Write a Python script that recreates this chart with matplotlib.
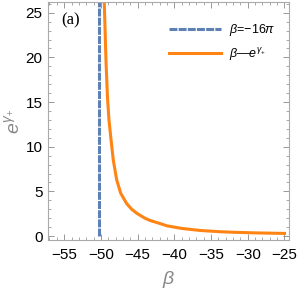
import numpy as np
import matplotlib
matplotlib.use("Agg")
import matplotlib.pyplot as plt
from matplotlib.ticker import MultipleLocator

# values
beta_line = -16 * np.pi
beta = [-49.55, -49.3, -49.1, -48.9, -48.62, -48.31, -47.85, -47.3, -46.5,
        -45.8, -45.1, -44.0, -43.3, -42.0, -41.0, -39.0, -36.5, -34.0,
        -32.0, -29.0, -25.0]
egamma = [26.5, 19.5, 15.5, 13.0, 10.8, 8.5, 6.3, 4.8, 3.65,
          3.0, 2.55, 2.0, 1.75, 1.42, 1.15, 0.86, 0.63, 0.5,
          0.43, 0.36, 0.30]
xticks = [-55, -50, -45, -40, -35, -30, -25]
yticks = [0, 5, 10, 15, 20, 25]

plt.rcParams['font.family'] = ['Liberation Sans', 'DejaVu Sans']
plt.rcParams['mathtext.fontset'] = 'custom'
plt.rcParams['mathtext.it'] = 'Liberation Sans:italic'
plt.rcParams['mathtext.rm'] = 'Liberation Sans'

blue = '#5e81b5'
orange = '#ff8413'
gray = '#888888'

fig = plt.figure(figsize=(3.0, 2.9), dpi=100)
ax = fig.add_axes([0.16, 0.172, 0.803, 0.821])

ax.plot([beta_line, beta_line], [0, 26.2], color=blue, lw=2.2, ls=(0, (2.6, 0.4)),
        label=r'$\beta$=−16$\pi$')
ax.plot(beta, egamma, color=orange, lw=2.2, label=r'$\beta$—$e^{\gamma_{+}}$',
        solid_joinstyle='round')

ax.set_xlim(-57.2, -24.4)
ax.set_ylim(-0.45, 26.2)
ax.set_xticks(xticks)
ax.set_yticks(yticks)
ax.set_xticklabels([str(t).replace('-', '−') for t in xticks])
ax.xaxis.set_minor_locator(MultipleLocator(1))
ax.yaxis.set_minor_locator(MultipleLocator(1))
ax.tick_params(which='both', direction='in', top=True, right=True, colors=gray,
               labelcolor='black', labelsize=11)
ax.tick_params(axis='x', pad=6)
ax.tick_params(axis='y', pad=4)
ax.tick_params(which='major', length=4, width=0.6)
ax.tick_params(which='minor', length=2, width=0.5)
for s in ax.spines.values():
    s.set_color('#aaaaaa')
    s.set_linewidth(0.8)

ax.set_xlabel(r'$\beta$', fontsize=14, color=gray, labelpad=5)
ax.set_ylabel(r'$e^{\gamma_{+}}$', fontsize=14, color=gray, labelpad=2)

ax.text(0.055, 0.955, '(a)', transform=ax.transAxes, fontsize=12,
        family='Liberation Serif', va='top', ha='left')

leg = ax.legend(loc='upper left', bbox_to_anchor=(0.481, 0.937), borderaxespad=0,
                frameon=False, fontsize=9, handlelength=4.2, handletextpad=0.6,
                labelspacing=0.6)

fig.savefig('out.png', dpi=100)
